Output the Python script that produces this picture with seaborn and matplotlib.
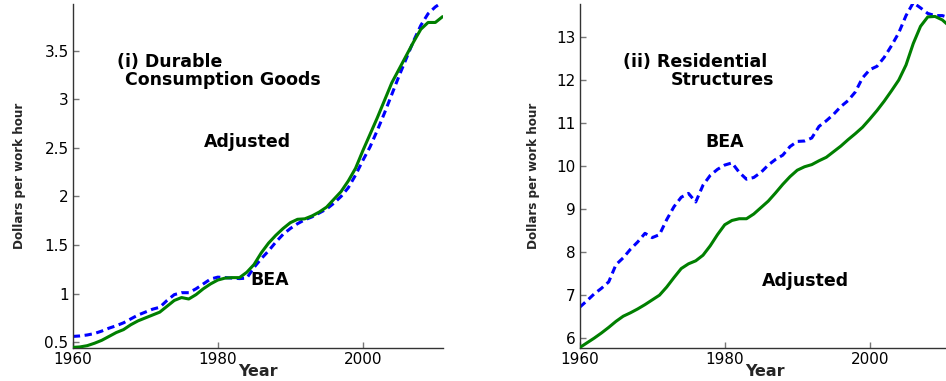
import matplotlib
matplotlib.use("Agg")
import matplotlib.pyplot as plt
import seaborn as sns
import pandas as pd

# Years covered by both panels
years = list(range(1960, 2012))

# Panel (i): durable consumption goods, dollars per work hour
durable_adjusted = [
    0.447, 0.452, 0.465, 0.49, 0.52, 0.56, 0.60, 0.63, 0.68, 0.72,
    0.75, 0.78, 0.81, 0.87, 0.93, 0.96, 0.945, 0.99, 1.05, 1.10,
    1.14, 1.16, 1.165, 1.165, 1.22, 1.30, 1.42, 1.52, 1.60, 1.67,
    1.73, 1.765, 1.77, 1.80, 1.84, 1.89, 1.97, 2.05, 2.16, 2.29,
    2.47, 2.64, 2.81, 2.99, 3.17, 3.31, 3.45, 3.59, 3.72, 3.79,
    3.79, 3.85,
]
durable_bea = [
    0.56, 0.565, 0.575, 0.59, 0.615, 0.645, 0.67, 0.70, 0.74, 0.78,
    0.81, 0.84, 0.86, 0.93, 0.99, 1.01, 1.01, 1.05, 1.10, 1.15,
    1.17, 1.165, 1.16, 1.155, 1.16, 1.27, 1.36, 1.44, 1.53, 1.61,
    1.67, 1.72, 1.76, 1.79, 1.83, 1.87, 1.93, 2.00, 2.09, 2.22,
    2.37, 2.51, 2.68, 2.86, 3.05, 3.24, 3.42, 3.60, 3.76, 3.88,
    3.95, 4.00,
]

# Panel (ii): residential structures, dollars per work hour
resid_adjusted = [
    5.77, 5.88, 5.99, 6.11, 6.24, 6.38, 6.50, 6.58, 6.67, 6.77,
    6.88, 6.99, 7.18, 7.40, 7.61, 7.72, 7.79, 7.92, 8.14, 8.40,
    8.63, 8.73, 8.77, 8.77, 8.88, 9.03, 9.18, 9.37, 9.57, 9.75,
    9.90, 9.98, 10.03, 10.12, 10.20, 10.33, 10.46, 10.61, 10.75, 10.90,
    11.09, 11.29, 11.51, 11.75, 12.00, 12.35, 12.85, 13.25, 13.47, 13.48,
    13.40, 13.25,
]
resid_bea = [
    6.71, 6.86, 7.02, 7.15, 7.30, 7.70, 7.86, 8.06, 8.23, 8.43,
    8.33, 8.40, 8.75, 9.05, 9.27, 9.36, 9.16, 9.55, 9.78, 9.92,
    10.02, 10.07, 9.85, 9.69, 9.73, 9.85, 10.02, 10.15, 10.25, 10.45,
    10.57, 10.58, 10.65, 10.92, 11.05, 11.20, 11.38, 11.52, 11.72, 12.05,
    12.24, 12.32, 12.53, 12.80, 13.10, 13.50, 13.80, 13.68, 13.55, 13.50,
    13.50, 13.45,
]

x_ticks = [1960, 1980, 2000]
durable_yticks = [0.5, 1, 1.5, 2, 2.5, 3, 3.5]
durable_yticklabels = ["0.5", "1", "1.5", "2", "2.5", "3", "3.5"]
resid_yticks = [6, 7, 8, 9, 10, 11, 12, 13]

sns.set_style("white")
plt.rcParams["font.family"] = ["DejaVu Sans"]

GREEN = "#007f00"
BLUE = "#0000ff"

fig = plt.figure(figsize=(9.46, 3.81), dpi=100)
ax1 = fig.add_axes([0.0769, 0.0874, 0.3917, 0.9021])
ax2 = fig.add_axes([0.6128, 0.0874, 0.3917, 0.9021])

df1 = pd.DataFrame({"year": years, "adj": durable_adjusted, "bea": durable_bea})
df2 = pd.DataFrame({"year": years, "adj": resid_adjusted, "bea": resid_bea})

for ax, df in ((ax1, df1), (ax2, df2)):
    sns.lineplot(data=df, x="year", y="bea", ax=ax, color=BLUE, lw=2.2,
                 linestyle=(0, (2.4, 1.5)), zorder=2)
    sns.lineplot(data=df, x="year", y="adj", ax=ax, color=GREEN, lw=2.2,
                 zorder=3)
    ax.set_xlim(1960, 2011.1)
    ax.set_xticks(x_ticks)
    ax.set_xticklabels([str(t) for t in x_ticks])
    for side in ("top", "right"):
        ax.spines[side].set_visible(False)
    for side in ("left", "bottom"):
        ax.spines[side].set_color("#333333")
        ax.spines[side].set_linewidth(1.0)
    ax.tick_params(direction="in", length=4, width=1, color="#777777",
                   labelcolor="black", labelsize=11, pad=3,
                   left=True, bottom=True)
    ax.set_xlabel("Year", fontsize=11.5, fontweight="bold", labelpad=0)
    ax.xaxis.set_label_coords(0.5, -0.047)
    ax.set_ylabel("Dollars per work hour", fontsize=9.5, fontweight="bold",
                  fontstretch="condensed",
                  family=["DejaVu Sans"])

ax1.set_ylim(0.444, 3.98)
ax1.set_yticks(durable_yticks)
ax1.set_yticklabels(durable_yticklabels)
ax1.yaxis.set_label_coords(-0.125, 0.5)

ax2.set_ylim(5.767, 13.77)
ax2.set_yticks(resid_yticks)
ax2.set_yticklabels([str(t) for t in resid_yticks])
ax2.yaxis.set_label_coords(-0.107, 0.5)

label_kw = dict(fontsize=12.5, fontweight="bold", color="black", va="center")
ax1.text(1966.1, 3.38, "(i) Durable", ha="left", **label_kw)
ax1.text(1967.2, 3.20, "Consumption Goods", ha="left", **label_kw)
ax1.text(1984.1, 2.56, "Adjusted", ha="center", **label_kw)
ax1.text(1987.1, 1.14, "BEA", ha="center", **label_kw)

ax2.text(1966.0, 12.41, "(ii) Residential", ha="left", **label_kw)
ax2.text(1972.5, 11.99, "Structures", ha="left", **label_kw)
ax2.text(1980.0, 10.55, "BEA", ha="center", **label_kw)
ax2.text(1991.2, 7.33, "Adjusted", ha="center", **label_kw)

fig.savefig("out.png", dpi=100)
